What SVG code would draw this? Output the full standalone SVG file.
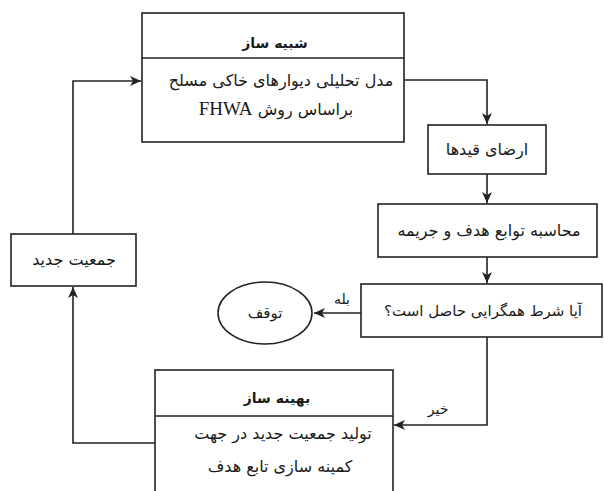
<svg xmlns="http://www.w3.org/2000/svg" width="604" height="491" viewBox="0 0 604 491">
<style>
.box{fill:#fff;stroke:#222;stroke-width:1.6}
.ln{fill:none;stroke:#222;stroke-width:1.6}
.t{font-family:"DejaVu Sans","Noto Sans",sans-serif;font-size:16px;fill:#1a1a1a;text-anchor:middle;direction:rtl}
.s{font-size:14px}
.b{font-weight:bold;font-size:14px}
.lat{font-family:"Liberation Serif",serif;font-size:19px}
</style>
<defs>
<marker id="ah" markerWidth="12" markerHeight="10" refX="11" refY="5" orient="auto" markerUnits="userSpaceOnUse">
<path d="M0,0 L11,5 L0,10 L3,5 Z" fill="#222"/>
</marker>
</defs>
<rect width="604" height="491" fill="#fff"/>
<g id="connectors">
<path class="ln" d="M404,80 H487 V124" marker-end="url(#ah)"/>
<path class="ln" d="M487,174 V203" marker-end="url(#ah)"/>
<path class="ln" d="M487,257 V283" marker-end="url(#ah)"/>
<path class="ln" d="M361,313 H314" marker-end="url(#ah)"/>
<path class="ln" d="M487,337 V425 H394" marker-end="url(#ah)"/>
<path class="ln" d="M155,443 H73 V287" marker-end="url(#ah)"/>
<path class="ln" d="M73,234 V81 H141" marker-end="url(#ah)"/>
<text class="t s" x="342" y="304">بله</text>
<text class="t s" x="438" y="414">خیر</text>
</g>
<g id="simulator">
<rect class="box" x="142" y="13" width="262" height="129"/>
<line class="ln" x1="142" y1="58" x2="404" y2="58"/>
<text class="t b" x="275" y="48">شبیه ساز</text>
<text class="t" x="281" y="86">مدل تحلیلی دیوارهای خاکی مسلح</text>
<text class="t" x="276" y="115">براساس روش <tspan class="lat">FHWA</tspan></text>
</g>
<g id="constraints">
<rect class="box" x="428" y="125" width="118" height="49"/>
<text class="t" x="487" y="155">ارضای قیدها</text>
</g>
<g id="objective">
<rect class="box" x="378" y="204" width="219" height="53"/>
<text class="t" x="489" y="236">محاسبه توابع هدف و جریمه</text>
</g>
<g id="convergence">
<rect class="box" x="361" y="284" width="241" height="53"/>
<text class="t" x="483" y="316" style="font-size:15px">آیا شرط همگرایی حاصل است؟</text>
</g>
<g id="stop">
<ellipse class="box" cx="265" cy="313" rx="47" ry="31"/>
<text class="t" x="265" y="318" style="font-size:15px">توقف</text>
</g>
<g id="optimizer">
<rect class="box" x="155" y="370" width="238" height="130"/>
<line class="ln" x1="155" y1="416" x2="393" y2="416"/>
<text class="t b" x="277" y="403">بهینه ساز</text>
<text class="t" x="283" y="439">تولید جمعیت جدید در جهت</text>
<text class="t" x="280" y="472">کمینه سازی تابع هدف</text>
</g>
<g id="newpop">
<rect class="box" x="11" y="234" width="125" height="52"/>
<text class="t" x="74" y="265">جمعیت جدید</text>
</g>
</svg>
